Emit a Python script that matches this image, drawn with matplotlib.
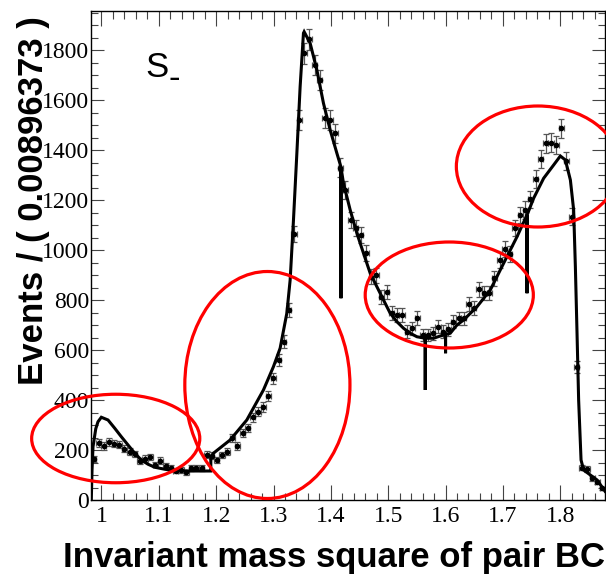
import numpy as np
import matplotlib
matplotlib.use("Agg")
import matplotlib.pyplot as plt
from matplotlib.patches import Ellipse
from matplotlib.ticker import MultipleLocator

# binning of the histogram
x_lo = 0.9817
bin_w = 0.00896373
n_bins = 100

# data points (events per bin)
counts = [165, 229, 216, 231, 226, 222, 205, 194, 184, 157,
          166, 172, 142, 158, 138, 127, 118, 121, 111, 128,
          130, 129, 181, 178, 160, 180, 193, 247, 216, 267,
          287, 331, 353, 371, 417, 487, 560, 633, 760, 1063,
          1520, 1787, 1843, 1740, 1680, 1527, 1520, 1467, 1330, 1240,
          1120, 1087, 1060, 987, 893, 900, 813, 833, 747, 740,
          740, 673, 687, 729, 660, 660, 667, 693, 673, 683,
          713, 727, 727, 784, 767, 843, 829, 827, 887, 960,
          1003, 984, 1087, 1140, 1160, 1203, 1284, 1364, 1427, 1429,
          1420, 1487, 1357, 1133, 533, 130, 125, 87, 73, 47]

# fit curve
curve_x = [0.9822, 0.9835, 0.9852, 0.9900, 0.9939, 0.9997, 1.0114, 1.0231, 1.0346,
           1.0463, 1.0580, 1.0695, 1.0812, 1.0929, 1.1103, 1.1278, 1.1510, 1.1742,
           1.1906, 1.1907, 1.1951, 1.2243, 1.2534, 1.2824, 1.2998, 1.3115, 1.3232,
           1.3290, 1.3348, 1.3407, 1.3464, 1.3522, 1.3534, 1.3639, 1.3756, 1.3871,
           1.3988, 1.4105, 1.4175, 1.4176, 1.4177, 1.4220, 1.4337, 1.4454, 1.4569,
           1.4686, 1.4803, 1.4918, 1.5035, 1.5152, 1.5267, 1.5384, 1.5501, 1.5645,
           1.5646, 1.5647, 1.5791, 1.5908, 1.5999, 1.6000, 1.6001, 1.6082, 1.6199,
           1.6315, 1.6548, 1.6780, 1.7013, 1.7246, 1.7420, 1.7421, 1.7422, 1.7536,
           1.7711, 1.7885, 1.8002, 1.8090, 1.8177, 1.8234, 1.8264, 1.8293, 1.8321,
           1.8363, 1.8408, 1.8525, 1.8643, 1.8781]
curve_y = [0, 120, 213, 285, 313, 331, 320, 287, 253,
           220, 187, 160, 143, 131, 123, 117, 116, 116,
           116, 173, 187, 240, 320, 440, 533, 607, 747,
           880, 1120, 1387, 1653, 1867, 1873, 1827, 1720, 1587,
           1480, 1387, 1333, 807, 1330, 1267, 1160, 1067, 987,
           907, 853, 800, 747, 713, 687, 667, 653, 647,
           440, 647, 647, 656, 662, 587, 662, 667, 700,
           720, 773, 840, 947, 1053, 1140, 827, 1140, 1207,
           1287, 1340, 1376, 1360, 1280, 1160, 933, 667, 400,
           160, 120, 100, 80, 35]

# highlighted regions: centre x, centre y, width, height (data units)
ell_cx = [1.0248, 1.2893, 1.6065, 1.7611]
ell_cy = [246, 460, 820, 1334]
ell_w = [0.2932, 0.2880, 0.2932, 0.2845]
ell_h = [354, 908, 424, 484]

x_ticks = [1.0, 1.1, 1.2, 1.3, 1.4, 1.5, 1.6, 1.7, 1.8]
x_ticklabels = ["1", "1.1", "1.2", "1.3", "1.4", "1.5", "1.6", "1.7", "1.8"]
y_ticks = [0, 200, 400, 600, 800, 1000, 1200, 1400, 1600, 1800]

fig = plt.figure(figsize=(6.06, 5.79), dpi=100)
W, H = 606.0, 579.0
ax = fig.add_axes([91 / W, 79 / H, 514 / W, 489 / H])

counts = np.array(counts, dtype=float)
centers = x_lo + (np.arange(n_bins) + 0.5) * bin_w
ax.errorbar(centers, counts, xerr=bin_w / 2, yerr=np.sqrt(counts), fmt="o",
            ms=3, mfc="black", mec="black", ecolor="#555555", elinewidth=0.9,
            capsize=2, capthick=0.9, zorder=2)
ax.plot(curve_x, curve_y, color="black", lw=2.2, zorder=3, solid_joinstyle="miter")

for cx, cy, w, h in zip(ell_cx, ell_cy, ell_w, ell_h):
    ax.add_patch(Ellipse((cx, cy), w, h, fill=False, edgecolor="#ff0000", lw=2.3,
                         clip_on=False, zorder=5))

ax.set_xlim(x_lo, x_lo + n_bins * bin_w)
ax.set_ylim(0, 1956)

ax.set_xticks(x_ticks)
ax.set_xticklabels(x_ticklabels)
ax.set_yticks(y_ticks)
ax.xaxis.set_minor_locator(MultipleLocator(0.02))
ax.yaxis.set_minor_locator(MultipleLocator(50))
ax.tick_params(axis="x", which="major", direction="in", length=10.8, width=0.8,
               color="#444444", top=True, pad=4)
ax.tick_params(axis="x", which="minor", direction="in", length=5.4, width=0.8,
               color="#444444", top=True)
ax.tick_params(axis="y", which="major", direction="in", length=9.4, width=0.8,
               color="#444444", right=True, pad=1.5)
ax.tick_params(axis="y", which="minor", direction="in", length=5.0, width=0.8,
               color="#444444", right=True)
for lab in ax.get_xticklabels() + ax.get_yticklabels():
    lab.set_fontfamily("Liberation Serif")
    lab.set_fontsize(17)
for sp in ax.spines.values():
    sp.set_linewidth(1.0)

fig.text(605 / W, (H - 567) / H, "Invariant mass square of pair BC", ha="right",
         va="baseline", fontsize=25, fontweight="bold", family="Liberation Sans")
fig.text(34 / W, (H - 385) / H, "Events / ( 0.00896373 )", rotation=90, ha="center",
         va="bottom", fontsize=25, fontweight="bold", family="Liberation Sans",
         zorder=10)
fig.text(145 / W, (H - 77) / H, "S", ha="left", va="baseline", fontsize=25,
         family="Liberation Sans")
fig.text(169 / W, (H - 88) / H, "-", ha="left", va="baseline", fontsize=25,
         family="Liberation Sans")

fig.savefig("out.png", dpi=100)
